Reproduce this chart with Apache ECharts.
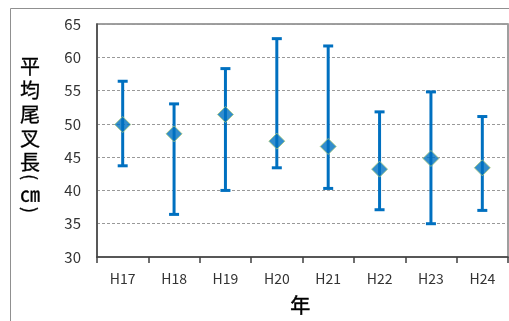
<!DOCTYPE html>
<html>
<head>
<meta charset="utf-8">
<script src="https://cdn.jsdelivr.net/npm/echarts@6/dist/echarts.min.js"></script>
<style>
html,body{margin:0;padding:0;background:#fff;}
#container{width:509px;height:321px;}
</style>
</head>
<body>
<div id="container"></div>
<script>
var categories = ['H17', 'H18', 'H19', 'H20', 'H21', 'H22', 'H23', 'H24'];
var meanValues = [49.9, 48.5, 51.4, 47.4, 46.6, 43.2, 44.8, 43.4];  // 平均値
var upperValues = [56.4, 53.0, 58.3, 62.8, 61.7, 51.8, 54.8, 51.1]; // 最大
var lowerValues = [43.7, 36.4, 40.0, 43.4, 40.3, 37.1, 35.0, 37.0]; // 最小
var yTicks = [30, 35, 40, 45, 50, 55, 60, 65];

var font = '"Noto Sans CJK JP", "Noto Sans", sans-serif';
var blue = '#0070C0';

var myChart = echarts.init(document.getElementById('container'));

var errorData = categories.map(function (c, i) { return [i, lowerValues[i], upperValues[i]]; });

// 縦書きタイトル用の1文字（括弧は回転させる）
function vChar(ch, y, size, rot) {
    return {
        type: 'group', x: 30, y: y, rotation: rot || 0,
        children: [{
            type: 'text',
            style: {
                text: ch, x: 0, y: 0, align: 'center', verticalAlign: 'middle',
                font: size + 'px ' + font, fill: '#000', stroke: '#000', lineWidth: 0.3
            }
        }]
    };
}

var option = {
    animation: false,
    backgroundColor: '#fff',
    grid: {
        left: 97, right: 1, top: 24, bottom: 64,
        show: true, borderColor: '#808080', borderWidth: 1.5
    },
    graphic: [
        {   // 外枠
            type: 'rect', silent: true, z: -1,
            shape: { x: 10.5, y: 8.5, width: 620, height: 400 },
            style: { fill: 'none', stroke: '#909090', lineWidth: 1 }
        },
        vChar('平', 66, 20),
        vChar('均', 90, 20),
        vChar('尾', 114, 20),
        vChar('叉', 138, 20),
        vChar('長', 162, 20),
        vChar('(', 177, 18, -Math.PI / 2),
        vChar('㎝', 194, 20),
        vChar(')', 210, 18, -Math.PI / 2),
        {
            type: 'text', left: 290, top: 295,
            style: { text: '年', font: '20px ' + font, fill: '#000', stroke: '#000', lineWidth: 0.5 }
        }
    ],
    xAxis: {
        type: 'category',
        data: categories,
        axisLine: { lineStyle: { color: '#404040', width: 1.5 } },
        axisTick: { show: true, length: 6, lineStyle: { color: '#404040', width: 1.5 } },
        axisLabel: { color: '#333', fontSize: 14, fontFamily: font, margin: 15 },
        splitLine: { show: false }
    },
    yAxis: {
        type: 'value',
        min: yTicks[0], max: yTicks[yTicks.length - 1], interval: 5,
        axisLine: { show: true, lineStyle: { color: '#404040', width: 1.5 } },
        axisTick: { show: false },
        axisLabel: { color: '#333', fontSize: 15, fontFamily: font, margin: 16 },
        splitLine: { lineStyle: { color: '#999', type: [3, 2], width: 1 } }
    },
    series: [
        {
            type: 'custom',
            data: errorData,
            z: 2,
            renderItem: function (params, api) {
                var x = api.value(0);
                var lo = api.coord([x, api.value(1)]);
                var hi = api.coord([x, api.value(2)]);
                var hw = 5;
                var st = { stroke: blue, lineWidth: 3 };
                return {
                    type: 'group',
                    children: [
                        { type: 'line', shape: { x1: hi[0], y1: hi[1], x2: lo[0], y2: lo[1] }, style: st },
                        { type: 'line', shape: { x1: hi[0] - hw, y1: hi[1], x2: hi[0] + hw, y2: hi[1] }, style: st },
                        { type: 'line', shape: { x1: lo[0] - hw, y1: lo[1], x2: lo[0] + hw, y2: lo[1] }, style: st }
                    ]
                };
            }
        },
        {
            type: 'scatter',
            data: meanValues,
            symbol: 'diamond',
            symbolSize: [16, 16],
            z: 3,
            itemStyle: { color: blue, borderColor: '#A9C97A', borderWidth: 1 }
        }
    ]
};
myChart.setOption(option);
</script>
</body>
</html>
